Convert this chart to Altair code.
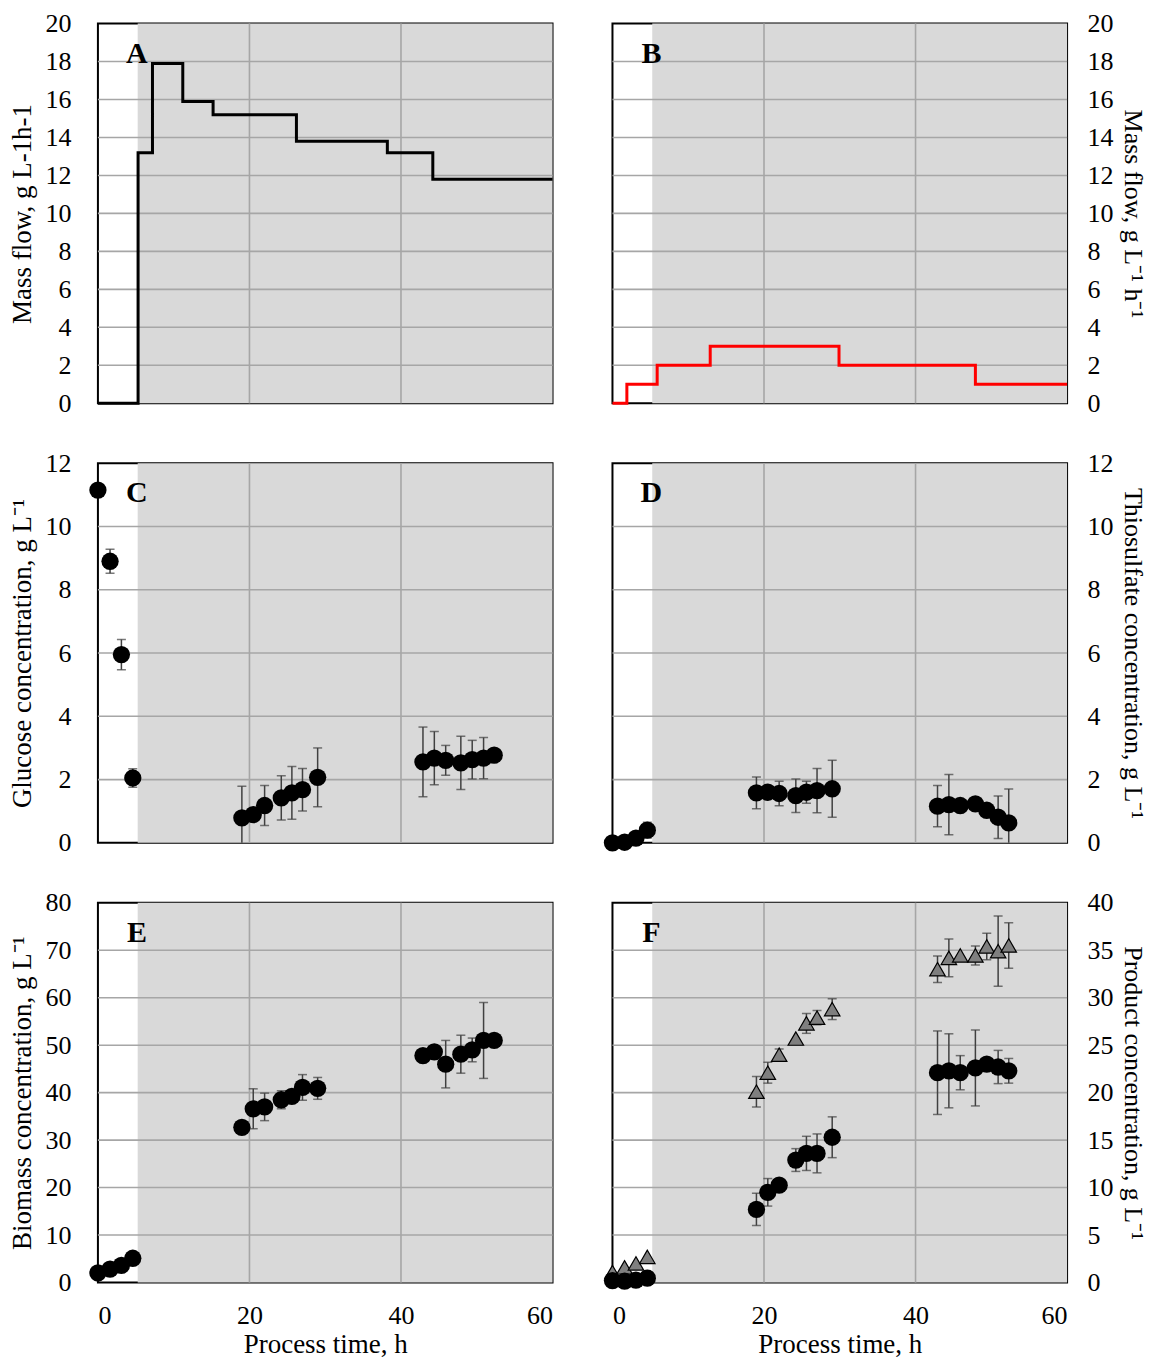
import altair as alt
import pandas as pd

# ---------------- data ----------------
# Panel A: glucose feed step profile (change times, h / value, g L-1 h-1)
a_time = [0, 5.3, 7.2, 11.2, 15.2, 26.2, 38.2, 44.2, 60]
a_flow = [0, 13.2, 17.9, 15.9, 15.2, 13.8, 13.2, 11.8, 11.8]

# Panel B: thiosulfate feed step profile
b_time = [0, 1.9, 5.9, 12.9, 29.9, 47.9, 60]
b_flow = [0, 1, 2, 3, 2, 1, 1]

# sampling times, h
t = [0, 1.6, 3.1, 4.6, 19.0, 20.5, 22.0, 24.2, 25.6, 27.0, 29.0,
     42.9, 44.4, 45.9, 47.9, 49.4, 50.9, 52.3]

glucose = [11.15, 8.9, 5.95, 2.05, 0.79, 0.89, 1.18, 1.42, 1.58, 1.68, 2.07,
           2.56, 2.68, 2.61, 2.53, 2.63, 2.68, 2.77]
glucose_err = [0, 0.38, 0.48, 0.29, 1.0, 0, 0.63, 0.7, 0.83, 0.67, 0.93,
               1.1, 0.84, 0.47, 0.84, 0.61, 0.65, 0]

thiosulfate = [0.0, 0.02, 0.15, 0.4, 1.58, 1.6, 1.56, 1.49, 1.6, 1.65, 1.71,
               1.16, 1.21, 1.18, 1.23, 1.03, 0.81, 0.63]
thiosulfate_err = [0, 0, 0, 0.25, 0.5, 0, 0.39, 0.53, 0.35, 0.7, 0.9,
                   0.65, 0.95, 0, 0, 0, 0.67, 1.07]

biomass = [2.0, 2.8, 3.6, 5.1, 32.7, 36.6, 37.0, 38.5, 39.2, 41.1, 40.9,
           47.8, 48.6, 46.0, 48.1, 49.0, 51.0, 51.0]
biomass_err = [0, 0, 0, 0, 0, 4.2, 2.9, 1.9, 0, 2.7, 2.3,
               0, 0, 5.0, 4.0, 2.5, 8.0, 0]

product_tri = [1.1, 1.6, 2.0, 2.7, 20.1, 22.1, 24.0, 25.7, 27.3, 27.9, 28.8,
               33.0, 34.2, 34.45, 34.45, 35.4, 34.9, 35.5]
product_tri_err = [0, 0, 0, 0, 1.6, 1.1, 0.6, 0, 1.05, 0.75, 1.1,
                   1.4, 2.0, 0, 1.0, 1.4, 3.7, 2.4]

product_circ = [0.2, 0.15, 0.25, 0.45, 7.7, 9.5, 10.25, 12.9, 13.6, 13.6, 15.3,
                22.1, 22.3, 22.1, 22.6, 23.0, 22.7, 22.3]
product_circ_err = [0, 0, 0, 0, 1.7, 1.45, 0, 1.2, 1.8, 2.05, 2.15,
                    4.4, 3.9, 1.8, 4.0, 0, 1.75, 1.3]

x_ticks = [0, 20, 40, 60]
x_grid = [20, 40]

# ---------------- style ----------------
W, H = 455, 380
FONT = "Liberation Serif"
SHADE_START = 5.25
SHADE = "#d9d9d9"
GRID = "#a6a6a6"
ERR = "#404040"


def xenc(show):
    ax = None
    if show:
        ax = alt.Axis(values=x_ticks, title="Process time, h", grid=False,
                      ticks=False, domain=False, labelPadding=20,
                      titlePadding=3, format="d", labelOverlap=False)
    return alt.X("x:Q", scale=alt.Scale(domain=[0, 60], nice=False, zero=False),
                 axis=ax)


def yenc(ymax, ticks, orient, title):
    if orient == "left":
        lp, tp, tfs = 27, 8, 27
    else:
        lp, tp, tfs = 20, 6, 26
    ax = alt.Axis(orient=orient, values=ticks, grid=False, ticks=False,
                  domain=False, labelPadding=lp, title=title,
                  titlePadding=tp, titleFontSize=tfs, format="d",
                  labelOverlap=False)
    return alt.Y("y:Q", scale=alt.Scale(domain=[0, ymax], nice=False, zero=True),
                 axis=ax)


def base_layers(ymax, ticks, orient, title, show_x):
    X = xenc(show_x)
    Y = yenc(ymax, ticks, orient, title)
    bg = alt.Chart(pd.DataFrame({"x": [SHADE_START], "x2": [60], "y": [0], "y2": [ymax]})
                   ).mark_rect(color=SHADE).encode(x=X, x2="x2:Q", y=Y, y2="y2:Q")
    hgrid = alt.Chart(pd.DataFrame({"y": [v for v in ticks if 0 < v < ymax]})
                      ).mark_rule(color=GRID, strokeWidth=1.6).encode(y=Y)
    vgrid = alt.Chart(pd.DataFrame({"x": x_grid})
                      ).mark_rule(color=GRID, strokeWidth=1.6).encode(x=X)
    return X, Y, [bg, hgrid, vgrid]


def letter(txt):
    return alt.Chart(pd.DataFrame({"label": [txt]})).mark_text(
        font=FONT, fontSize=30, fontWeight="bold", align="center",
        baseline="middle", color="black"
    ).encode(x=alt.value(39), y=alt.value(30), text="label:N")


def err_layers(X, Y, vals, errs):
    df = pd.DataFrame({"x": t, "v": vals, "e": errs})
    df = df[df["e"] > 0].copy()
    df["y"] = df["v"] - df["e"]
    df["y2"] = df["v"] + df["e"]
    df_hi = df.copy()
    df_hi["y"] = df_hi["y2"]
    bars = alt.Chart(df).mark_rule(color=ERR, strokeWidth=1.5, clip=True).encode(
        x=X, y=Y, y2="y2:Q")
    lo = alt.Chart(df).mark_tick(color=ERR, orient="horizontal", size=9,
                                 thickness=1.5, clip=True).encode(x=X, y=Y)
    hi = alt.Chart(df_hi).mark_tick(color=ERR, orient="horizontal", size=9,
                                    thickness=1.5, clip=True).encode(x=X, y=Y)
    return [bars, lo, hi]


def circles(X, Y, vals):
    df = pd.DataFrame({"x": t, "y": vals})
    return alt.Chart(df).mark_point(shape="circle", filled=True, size=300,
                                    color="black", opacity=1).encode(x=X, y=Y)


def triangles(X, Y, vals):
    df = pd.DataFrame({"x": t, "y": vals})
    return alt.Chart(df).mark_point(shape="triangle-up", filled=True, size=240,
                                    fill="#7f7f7f", stroke="black",
                                    strokeWidth=1.2, opacity=1).encode(x=X, y=Y)


def step_line(X, Y, xs, ys, color, width):
    df = pd.DataFrame({"x": xs, "y": ys})
    return alt.Chart(df).mark_line(interpolate="step-after", color=color,
                                   strokeWidth=width).encode(x=X, y=Y)


ticks20 = list(range(0, 21, 2))
ticks12 = list(range(0, 13, 2))
ticks80 = list(range(0, 81, 10))
ticks40 = list(range(0, 41, 5))

# Panel A
X, Y, L = base_layers(20, ticks20, "left", "Mass flow, g L-1h-1", False)
pA = alt.layer(*L, step_line(X, Y, a_time, a_flow, "black", 3), letter("A")
               ).properties(width=W, height=H)

# Panel B
X, Y, L = base_layers(20, ticks20, "right", "Mass flow, g L⁻¹ h⁻¹", False)
pB = alt.layer(*L, step_line(X, Y, b_time, b_flow, "#ff0000", 3), letter("B")
               ).properties(width=W, height=H)

# Panel C
X, Y, L = base_layers(12, ticks12, "left", "Glucose concentration, g L⁻¹", False)
pC = alt.layer(*L, *err_layers(X, Y, glucose, glucose_err),
               circles(X, Y, glucose), letter("C")).properties(width=W, height=H)

# Panel D
X, Y, L = base_layers(12, ticks12, "right", "Thiosulfate concentration, g L⁻¹", False)
pD = alt.layer(*L, *err_layers(X, Y, thiosulfate, thiosulfate_err),
               circles(X, Y, thiosulfate), letter("D")).properties(width=W, height=H)

# Panel E
X, Y, L = base_layers(80, ticks80, "left", "Biomass concentration, g L⁻¹", True)
pE = alt.layer(*L, *err_layers(X, Y, biomass, biomass_err),
               circles(X, Y, biomass), letter("E")).properties(width=W, height=H)

# Panel F
X, Y, L = base_layers(40, ticks40, "right", "Product concentration, g L⁻¹", True)
pF = alt.layer(*L,
               *err_layers(X, Y, product_tri, product_tri_err),
               triangles(X, Y, product_tri),
               *err_layers(X, Y, product_circ, product_circ_err),
               circles(X, Y, product_circ),
               letter("F")).properties(width=W, height=H)

chart = alt.concat(pA, pB, pC, pD, pE, pF, columns=2, spacing=60, bounds="flush"
                   ).properties(
    padding={"left": 0, "top": 1, "right": 5, "bottom": 0}
).configure_axis(
    labelFont=FONT, titleFont=FONT, labelFontSize=26, titleFontSize=27,
    labelColor="black", titleColor="black", titleFontWeight="normal"
).configure_view(
    stroke="black", strokeWidth=2
)

chart.save("out.html", embed_options={"renderer": "svg", "actions": False})
